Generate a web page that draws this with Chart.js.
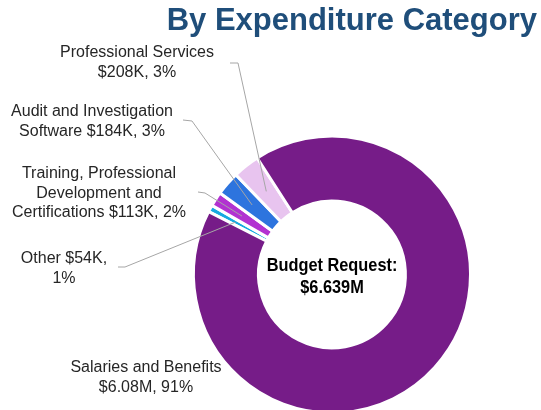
<!DOCTYPE html>
<html>
<head>
<meta charset="utf-8">
<script src="https://cdn.jsdelivr.net/npm/chart.js@4"></script>
<style>
  html, body { margin: 0; padding: 0; background: #fff; overflow: hidden; }
  #wrap { width: 541px; height: 430px; position: relative; }
</style>
</head>
<body>
<div id="wrap"><canvas id="budgetChart"></canvas></div>
<script>
// DONNÉES (en milliers de $)
const categories = ['Other', 'Training, Professional Development and Certifications', 'Audit and Investigation Software', 'Professional Services', 'Salaries and Benefits'];
const amounts = [54, 113, 184, 208, 6080];
const sliceColors = ['#18A9E1', '#B232D1', '#2D74DE', '#E8C4EF', '#761C88'];
const labelLines = [
    ['Other $54K,', '1%'],
    ['Training, Professional', 'Development and', 'Certifications $113K, 2%'],
    ['Audit and Investigation', 'Software $184K, 3%'],
    ['Professional Services', '$208K, 3%'],
    ['Salaries and Benefits', '$6.08M, 91%']
];
const centerLines = ['Budget Request:', '$6.639M'];
const titleText = 'By Expenditure Category';

// placement des étiquettes : centre x, y de la 1re ligne, départ du trait (null = pas de trait)
const labelPlaces = [
    { x: 64, y: 259, lead: [118, 267, 125, 267], r: 0.56 },
    { x: 99, y: 174, lead: [198, 192, 205, 193], r: 0.52 },
    { x: 92, y: 112, lead: [183, 120, 192, 121], r: 0.5 },
    { x: 137, y: 53, lead: [230, 63, 238, 63], r: 0.5 },
    { x: 146, y: 368, lead: null }
];

const labelPlugin = {
    id: 'labelPlugin',
    afterDraw(chart) {
        const ctx = chart.ctx;
        const arcs = chart.getDatasetMeta(0).data;
        ctx.save();

        // traits de rappel
        ctx.strokeStyle = '#A6A6A6';
        ctx.lineWidth = 1;
        labelPlaces.forEach((p, i) => {
            if (!p.lead) return;
            const a = arcs[i];
            const mid = (a.startAngle + a.endAngle) / 2;
            const rad = a.innerRadius + (a.outerRadius - a.innerRadius) * p.r;
            const ex = a.x + Math.cos(mid) * rad;
            const ey = a.y + Math.sin(mid) * rad;
            ctx.beginPath();
            ctx.moveTo(p.lead[0], p.lead[1]);
            ctx.lineTo(p.lead[2], p.lead[3]);
            ctx.lineTo(ex, ey);
            ctx.stroke();
        });

        // étiquettes
        ctx.fillStyle = '#262626';
        ctx.font = '16px "Liberation Sans", Arial, sans-serif';
        ctx.textAlign = 'center';
        ctx.textBaseline = 'middle';
        labelPlaces.forEach((p, i) => {
            labelLines[i].forEach((line, k) => ctx.fillText(line, p.x, p.y + k * 19.5));
        });

        // texte central (un peu condensé)
        const c = arcs[0];
        ctx.fillStyle = '#000';
        ctx.font = 'bold 19px "Liberation Sans", Arial, sans-serif';
        ctx.save();
        ctx.translate(c.x, c.y);
        ctx.scale(0.86, 1);
        ctx.fillText(centerLines[0], 0, -9);
        ctx.fillText(centerLines[1], 0, 13);
        ctx.restore();

        // titre
        ctx.fillStyle = '#1F4E7A';
        ctx.font = 'bold 31px "Liberation Sans", Arial, sans-serif';
        ctx.textAlign = 'right';
        ctx.textBaseline = 'alphabetic';
        ctx.fillText(titleText, 537, 30);

        ctx.restore();
    }
};

const ctx = document.getElementById('budgetChart').getContext('2d');
const myChart = new Chart(ctx, {
    type: 'doughnut',
    data: {
        labels: categories,
        datasets: [{
            data: amounts,
            backgroundColor: sliceColors,
            borderColor: '#ffffff',
            borderWidth: 3,
            hoverOffset: 0,
            offset: 0
        }]
    },
    options: {
        responsive: true,
        maintainAspectRatio: false,
        animation: false,
        cutout: '53%',
        rotation: -63,
        layout: { padding: { left: 192, right: 69, top: 134.5, bottom: 15.5 } },
        events: [],
        plugins: { legend: { display: false }, tooltip: { enabled: false }, title: { display: false } }
    },
    plugins: [labelPlugin]
});
</script>
</body>
</html>
